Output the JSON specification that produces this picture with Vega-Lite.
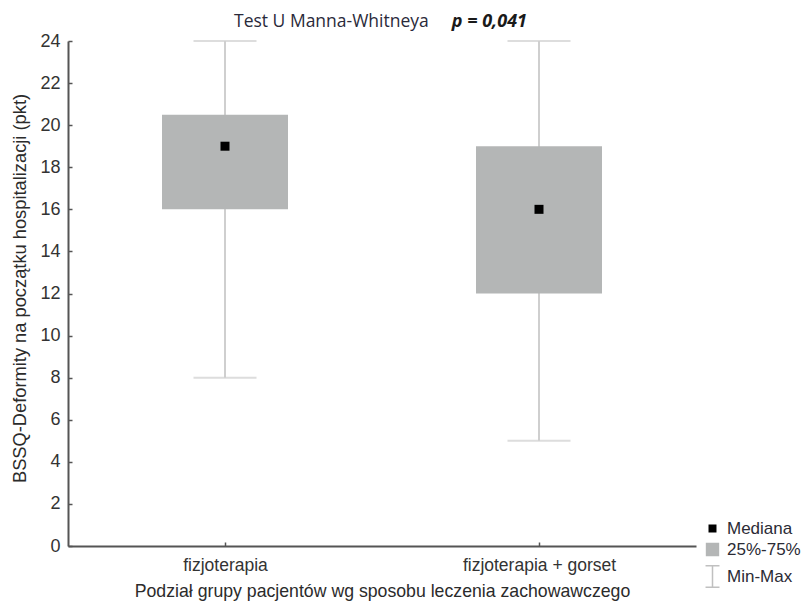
{
  "$schema": "https://vega.github.io/schema/vega-lite/v6.json",
  "width": 628,
  "height": 505,
  "autosize": {"type": "none"},
  "padding": {"left": 68, "top": 41, "right": 108, "bottom": 61},
  "background": "white",
  "config": {
    "view": {"stroke": null},
    "axis": {
      "labelFont": "Liberation Sans",
      "titleFont": "Liberation Sans",
      "labelColor": "#333333",
      "titleColor": "#2b2b2b",
      "domainColor": "#555555",
      "domainWidth": 2,
      "tickColor": "#555555",
      "grid": false
    },
    "legend": {
      "labelFont": "Liberation Sans",
      "labelFontSize": 17,
      "labelColor": "#2b2b35"
    }
  },
  "datasets": {
    "stats": [
      {"grupa": "fizjoterapia", "min": 8, "q1": 16, "mediana": 19, "q3": 20.5, "max": 24},
      {"grupa": "fizjoterapia + gorset", "min": 5, "q1": 12, "mediana": 16, "q3": 19, "max": 24}
    ],
    "legenda": [
      {"element": "Mediana"},
      {"element": "25%-75%"},
      {"element": "Min-Max"}
    ]
  },
  "layer": [
    {
      "data": {"name": "stats"},
      "mark": {"type": "rule", "color": "#cfcfcf", "strokeWidth": 2},
      "encoding": {
        "x": {
          "field": "grupa",
          "type": "nominal",
          "sort": ["fizjoterapia", "fizjoterapia + gorset"],
          "scale": {"type": "point", "padding": 0.5},
          "axis": {
            "title": "Podział grupy pacjentów wg sposobu leczenia zachowawczego",
            "labelAngle": 0,
            "labelFontSize": 17.5,
            "titleFontSize": 17.7,
            "titleFontWeight": "normal",
            "tickSize": -4,
            "tickWidth": 1.5,
            "labelPadding": 14,
            "titlePadding": 9
          }
        },
        "y": {
          "field": "min",
          "type": "quantitative",
          "scale": {"domain": [0, 24], "nice": false},
          "axis": {
            "title": "BSSQ-Deformity na początku hospitalizacji (pkt)",
            "values": [0, 2, 4, 6, 8, 10, 12, 14, 16, 18, 20, 22, 24],
            "labelFontSize": 18,
            "titleFontSize": 18.3,
            "titleFontWeight": "normal",
            "titleY": 247,
            "tickSize": -4,
            "tickWidth": 1.5,
            "labelPadding": 12,
            "titlePadding": 10
          }
        },
        "y2": {"field": "max"}
      }
    },
    {
      "data": {"name": "stats"},
      "mark": {"type": "tick", "color": "#cfcfcf", "thickness": 2, "size": 63},
      "encoding": {
        "x": {"field": "grupa", "type": "nominal"},
        "y": {"field": "max", "type": "quantitative"}
      }
    },
    {
      "data": {"name": "stats"},
      "mark": {"type": "tick", "color": "#cfcfcf", "thickness": 2, "size": 63},
      "encoding": {
        "x": {"field": "grupa", "type": "nominal"},
        "y": {"field": "min", "type": "quantitative"}
      }
    },
    {
      "data": {"name": "stats"},
      "mark": {"type": "bar", "color": "#b4b6b6", "size": 126},
      "encoding": {
        "x": {"field": "grupa", "type": "nominal"},
        "y": {"field": "q1", "type": "quantitative"},
        "y2": {"field": "q3"}
      }
    },
    {
      "data": {"name": "stats"},
      "mark": {"type": "point", "shape": "square", "filled": true, "color": "black", "size": 81, "opacity": 1},
      "encoding": {
        "x": {"field": "grupa", "type": "nominal"},
        "y": {"field": "mediana", "type": "quantitative"}
      }
    },
    {
      "data": {"name": "stats"},
      "transform": [{"filter": "datum.grupa === 'fizjoterapia'"}],
      "mark": {
        "type": "text",
        "text": "Test U Manna-Whitneya",
        "font": "Open Sans",
        "fontSize": 17.5,
        "color": "#2a2a3a",
        "align": "left",
        "baseline": "alphabetic",
        "dx": 9,
        "dy": -14
      },
      "encoding": {
        "x": {"field": "grupa", "type": "nominal"},
        "y": {"field": "max", "type": "quantitative"}
      }
    },
    {
      "data": {"name": "stats"},
      "transform": [{"filter": "datum.grupa === 'fizjoterapia + gorset'"}],
      "mark": {
        "type": "text",
        "text": "p = 0,041",
        "font": "Open Sans",
        "fontSize": 18,
        "fontWeight": "bold",
        "fontStyle": "italic",
        "color": "#1a1a1a",
        "align": "right",
        "baseline": "alphabetic",
        "dx": -12,
        "dy": -14
      },
      "encoding": {
        "x": {"field": "grupa", "type": "nominal"},
        "y": {"field": "max", "type": "quantitative"}
      }
    },
    {
      "data": {"name": "legenda"},
      "transform": [{"filter": "false"}],
      "mark": {"type": "point", "strokeWidth": 2, "opacity": 1},
      "encoding": {
        "shape": {
          "field": "element",
          "type": "nominal",
          "scale": {
            "domain": ["Mediana", "25%-75%", "Min-Max"],
            "range": ["square", "square", "M-0.9,-1.4H0.9M0,-1.4V1.4M-0.9,1.4H0.9"]
          },
          "legend": {
            "title": null,
            "orient": "none",
            "legendX": 636,
            "legendY": 479,
            "rowPadding": 3,
            "labelOffset": 6,
            "symbolOpacity": 1
          }
        },
        "fill": {
          "field": "element",
          "type": "nominal",
          "scale": {
            "domain": ["Mediana", "25%-75%", "Min-Max"],
            "range": ["black", "#b4b6b6", "transparent"]
          },
          "legend": {"title": null}
        },
        "stroke": {
          "field": "element",
          "type": "nominal",
          "scale": {
            "domain": ["Mediana", "25%-75%", "Min-Max"],
            "range": ["black", "#b4b6b6", "#c0c0c0"]
          },
          "legend": {"title": null}
        },
        "size": {
          "field": "element",
          "type": "nominal",
          "scale": {
            "domain": ["Mediana", "25%-75%", "Min-Max"],
            "range": [42, 240, 240]
          },
          "legend": {"title": null}
        }
      }
    }
  ]
}
